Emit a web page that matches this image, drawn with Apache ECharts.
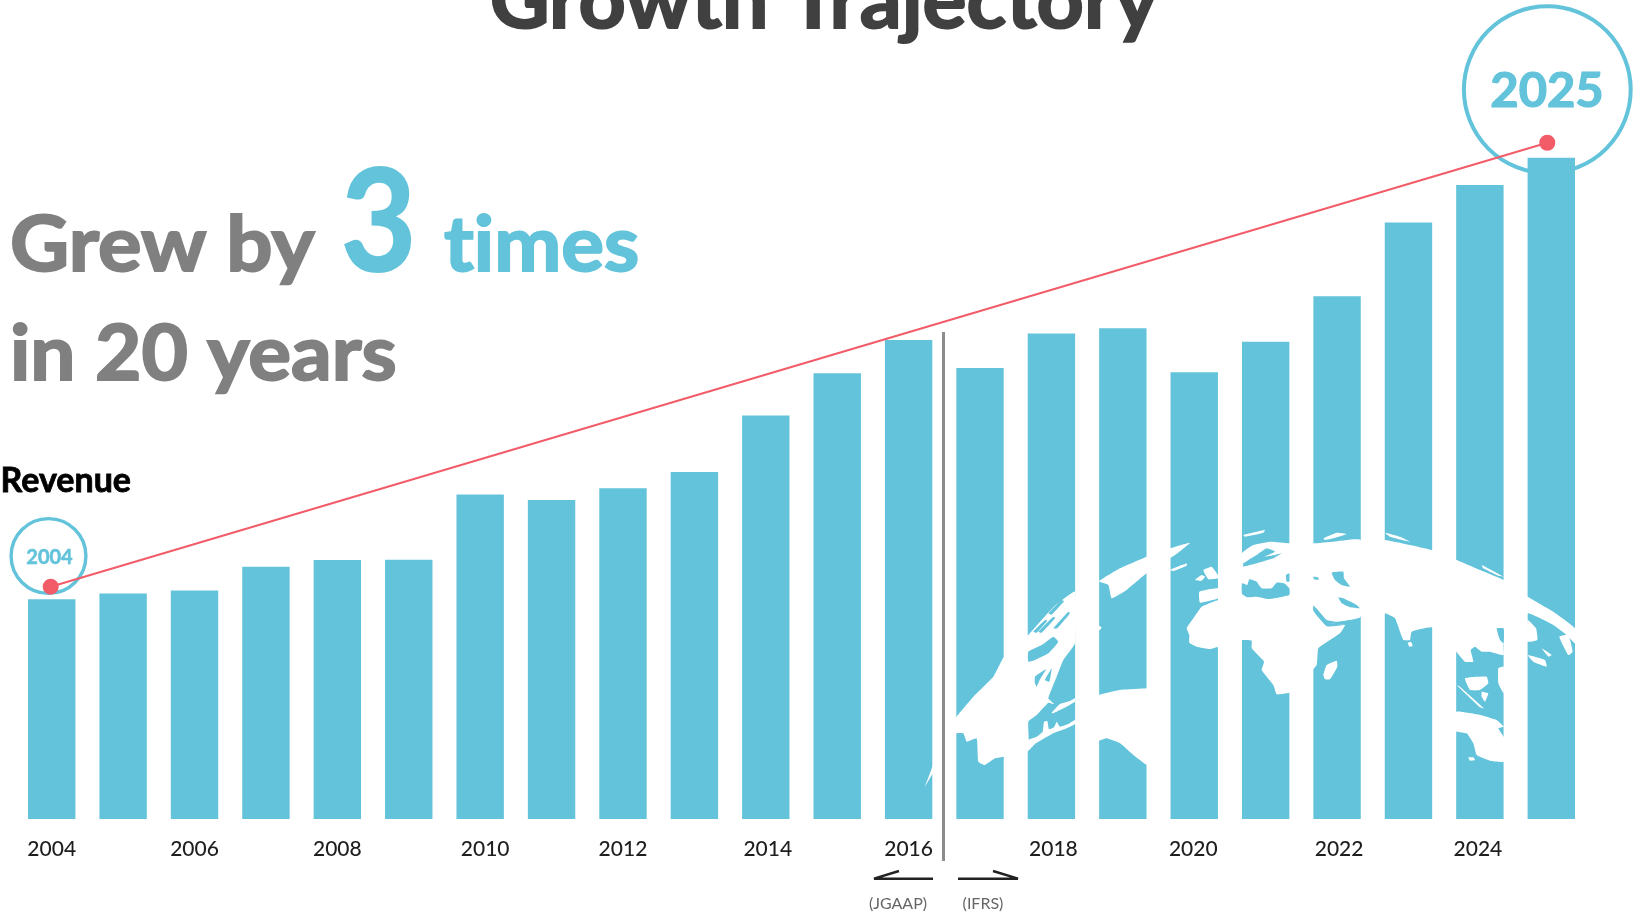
<!DOCTYPE html>
<html>
<head>
<meta charset="utf-8">
<style>html,body{margin:0;padding:0;background:#fff;overflow:hidden}#chart{width:1640px;height:915px}</style>
<script src="https://cdn.jsdelivr.net/npm/echarts@6/dist/echarts.min.js"></script>
</head>
<body>
<div id="chart"></div>
<script>
// Revenue indexed to 2004 = 100
const years = ['2004','2005','2006','2007','2008','2009','2010','2011','2012','2013','2014','2015','2016','2017','2018','2019','2020','2021','2022','2023','2024','2025'];
const revenue = [100,102.6,104,114.8,117.8,118,147.6,145.2,150.5,157.9,183.6,202.8,218,205.2,220.9,223.3,203.3,217.1,237.8,271.4,288.5,300.9];

// Growth line running above the 2004 and 2025 bars
const trendYears = [2003.986,2024.944];
const trendLevels = [105.7,307.7];

// Hand-placed sideways shifts for some year labels
const labelShift = {2010:10, 2014:4, 2018:4, 2020:-2, 2022:4, 2024:-4};

const BLUE = '#62c3da', RED = '#f25c69', GREY = '#808080', FONT = 'Lato';

// Decorative world map: outlines in 1/3 px units relative to a sheet origin
const sheetA = {x:920,y:520}, sheetB = {x:1160,y:520}, sheetC = {x:1300,y:520};
const landA = [
  [[15,800],[30,760],[60,680],[110,590],[160,530],[220,470],[252,410],[325,345],[400,262],[465,215],[465,370],[430,420],[410,470],[385,535],[402,552],[385,548],[350,585],[325,605],[325,692],[252,710],[225,715],[195,735],[175,725],[170,655],[140,665],[130,640],[109,640]],
  [[325,692],[325,660],[350,650],[368,635],[372,605],[382,603],[387,628],[402,622],[410,605],[420,620],[445,612],[465,600],[465,612],[440,625],[400,640],[345,672]],
  [[395,578],[420,552],[450,543],[465,535],[465,545],[430,565],[400,580]],
  [[465,610],[480,560],[537,525],[600,510],[680,505],[742,497],[742,735],[700,745],[680,735],[640,705],[600,670],[560,655],[537,662],[480,662]],
  [[537,184],[600,145],[680,110],[750,85],[810,68],[765,105],[680,160],[620,210],[575,235],[565,195]],
  [[537,318],[545,322],[540,330],[537,330]],
  [[750,150],[800,130],[800,137],[760,153]]
];
const waterA = [
  [[325,395],[365,375],[400,350],[415,365],[385,400],[345,420],[325,425]],
  [[340,335],[375,300],[382,302],[350,338]],
  [[400,325],[445,275],[450,280],[412,325]],
  [[385,280],[425,240],[432,244],[395,284]],
  [[355,335],[400,290],[406,294],[365,338]],
  [[345,470],[378,448],[360,478],[350,500],[345,490]],
  [[375,480],[395,445],[388,485]]
];
const landB = [
  [[80,325],[100,295],[125,260],[175,240],[246,225],[330,235],[388,230],[460,260],[475,290],[500,310],[555,315],[540,340],[510,360],[475,385],[470,435],[440,470],[420,510],[380,520],[350,523],[340,495],[305,450],[312,425],[275,385],[275,362],[245,360],[175,380],[150,387],[110,380],[88,368],[88,345]],
  [[246,100],[280,75],[330,65],[388,70],[460,70],[520,65],[602,60],[602,290],[530,305],[500,300],[462,258],[388,232],[246,232]],
  [[118,215],[174,205],[174,235],[120,248]],
  [[105,180],[125,165],[135,170],[125,182]],
  [[130,150],[155,140],[174,165],[174,175],[145,178]],
  [[490,465],[500,435],[530,422],[532,440],[510,478],[495,478]],
  [[250,45],[315,30],[310,38],[255,50]],
  [[490,55],[530,38],[560,42],[520,55],[495,60]]
];
const waterB = [
  [[246,190],[262,195],[268,178],[290,185],[305,205],[335,205],[350,188],[372,190],[388,205],[388,225],[328,237],[290,230],[262,232],[246,222]],
  [[250,130],[290,105],[320,85],[345,95],[312,110],[345,105],[365,100],[340,115],[290,130],[250,140]],
  [[378,165],[388,160],[388,185],[380,185]],
  [[515,158],[550,155],[552,175],[570,200],[545,195],[525,180]],
  [[460,170],[475,172],[475,180],[462,178]],
  [[535,232],[550,235],[590,255],[600,265],[570,262],[545,250]],
  [[460,258],[475,280],[500,308],[555,314],[500,319],[475,292],[460,272]]
];
const landC = [
  [[182,60],[255,60],[396,90],[470,120],[540,150],[611,180],[683,230],[760,275],[825,325],[825,370],[800,345],[760,315],[683,280],[683,365],[611,370],[611,405],[570,395],[545,395],[525,380],[512,390],[520,425],[495,425],[469,395],[396,322],[335,335],[330,360],[310,360],[285,295],[255,280],[182,285]],
  [[683,300],[708,325],[712,360],[683,365]],
  [[778,350],[805,345],[818,395],[805,405]],
  [[725,385],[755,405],[745,410]],
  [[683,405],[735,420],[740,440],[700,425]],
  [[495,475],[560,470],[565,490],[540,510],[510,510]],
  [[545,515],[565,520],[555,545],[545,530]],
  [[470,495],[480,500],[552,565],[540,562]],
  [[595,445],[611,440],[611,520],[595,490]],
  [[470,575],[540,585],[590,600],[611,620],[595,625],[611,650],[630,680],[611,725],[570,722],[530,705],[520,670],[500,640],[470,635],[430,610]],
  [[323,368],[333,365],[338,378],[328,380]],
  [[505,712],[520,712],[525,720],[510,722]],
  [[255,38],[300,50],[330,65],[270,50]],
  [[545,135],[610,170],[590,165],[550,145]]
];
const waterC = [
  [[590,325],[611,325],[611,370],[600,360]]
];

function mapShapes(origin, outlines, fill) {
  return outlines.map(pts => ({
    type: 'polygon', z: 5, silent: true,
    shape: {points: pts.map(p => [origin.x + p[0] / 3, origin.y + p[1] / 3]), smooth: 0.12},
    style: {fill}
  }));
}
// Text helper: stretch widens the glyphs, heft thickens them with an outline
function label(text, x, y, size, color, weight, align, stretch, heft) {
  return {type:'text', z:8, silent:true, x, y, scaleX: stretch || 1,
    style:{text, fill:color, stroke: heft ? color : 'none', lineWidth: heft || 0,
      font:`${weight} ${size}px ${FONT}`, align:align||'left', verticalAlign:'middle'}};
}
function ring(cx, cy, r, w) {
  return {type:'circle', z:1, silent:true, shape:{cx,cy,r}, style:{fill:'none', stroke:BLUE, lineWidth:w}};
}
function stroke(points, color, w) {
  return {type:'polyline', z:8, silent:true, shape:{points}, style:{stroke:color, lineWidth:w, fill:'none', lineJoin:'bevel'}};
}
function yearLabel(year) {
  const shift = labelShift[year];
  if (!shift) return year;
  return {value: year, textStyle: {padding: shift > 0 ? [0,0,0,shift] : [0,-shift,0,0]}};
}

const chart = echarts.init(document.getElementById('chart'), null, {renderer:'canvas'});
chart.setOption({
  animation:false,
  backgroundColor:'#fff',
  grid:{left:16, top:19, width:1571, height:800},
  xAxis:[
    {type:'category', data:years.map(yearLabel), axisLine:{show:false}, axisTick:{show:false},
     axisLabel:{interval:1, margin:20, fontFamily:FONT, fontSize:21, fontWeight:500, color:'#1e1e1e'}},
    {type:'value', min:2003.5, max:2025.5, show:false}
  ],
  yAxis:{type:'value', min:0, max:364, show:false},
  series:[
    {type:'bar', data:revenue, barWidth:47.4, itemStyle:{color:BLUE}, z:2, silent:true},
    {type:'line', xAxisIndex:1, data:trendYears.map((y,i)=>[y,trendLevels[i]]), symbol:'circle', symbolSize:16,
     lineStyle:{color:RED,width:2}, itemStyle:{color:RED}, z:9, silent:true}
  ],
  graphic:[
    ring(48.5,556,37.4,3.4),
    ring(1547.3,89.6,83.4,4),
    ...mapShapes(sheetA,landA,'#fff'), ...mapShapes(sheetA,waterA,BLUE),
    ...mapShapes(sheetB,landB,'#fff'), ...mapShapes(sheetB,waterB,BLUE),
    ...mapShapes(sheetC,landC,'#fff'), ...mapShapes(sheetC,waterC,BLUE),
    label('Growth Trajectory',824,2,80,'#404040','bold','center',1.03,2),
    label('Grew by',10,246,77,GREY,'bold','left',1.06,2),
    label('3',341,226,141,BLUE,'bold','left',0.92,2),
    label('t\u200cimes',444,246,77,BLUE,'bold','left',1.04,2),
    label('in 20 years',10,355,77,GREY,'bold','left',1.04,2),
    label('Revenue',131,481,34,'#000','bold','right',1,0.8),
    label('2004',49.5,558,20,BLUE,'bold','center',1,0.5),
    label('2025',1547,92,47,BLUE,'bold','center',1.04,1.2),
    label('(JGAAP)',898,904,16,'#666','normal','center'),
    label('(IFRS)',983,904,16,'#666','normal','center'),
    stroke([[943.5,332],[943.5,861]],'#8c8c8c',3),
    stroke([[899,871],[874,878.7],[933,878.7]],'#222',2.4),
    stroke([[993,871],[1018,878.7],[958,878.7]],'#222',2.4)
  ]
});
</script>
</body>
</html>
